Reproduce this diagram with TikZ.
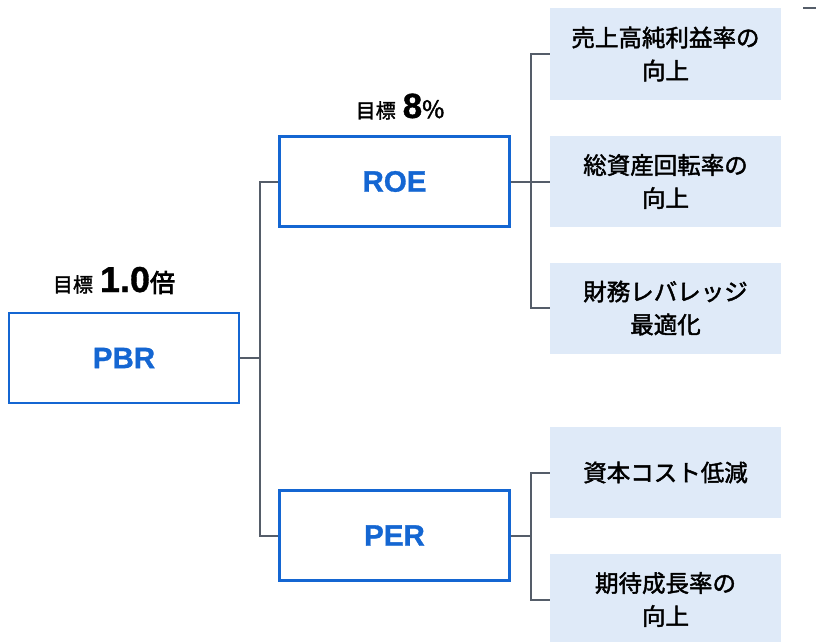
\documentclass[tikz,border=0pt]{standalone}
\usepackage{fontspec}
\setmainfont{Noto Sans CJK JP}
\newfontfamily\kpifont{Liberation Sans Bold}[FakeBold=1]
\newfontfamily\leverfont{Noto Sans CJK JP}[FakeBold=1.8]
\newfontfamily\goalfont{Noto Sans CJK JP}[FakeBold=3]
\usepackage{tikz}
\usetikzlibrary{positioning}

\definecolor{kpiblue}{HTML}{1466D2}
\definecolor{leverfill}{HTML}{DFEAF8}
\definecolor{treegray}{HTML}{555D69}

\tikzset{
  kpi/.style={draw=kpiblue, line width=2.8pt, minimum width=230pt, minimum height=90pt,
    inner sep=0pt, text=kpiblue, font=\kpifont\fontsize{29.5}{29.5}\selectfont},
  lever/.style={fill=leverfill, minimum width=231pt, minimum height=91pt, inner sep=0pt,
    align=center, font=\leverfont\fontsize{23.5}{33}\selectfont},
  link/.style={treegray, line width=2pt},
  goal/.style={inner sep=0pt, anchor=base}
}

\begin{document}
\begin{tikzpicture}[x=1pt, y=-1pt]
    \useasboundingbox (0,0) rectangle (816,642);

    % Indicators
    \node[kpi] (pbr) at (124,358) {PBR};
    \node[kpi] (roe) at (394.5,181.5) {ROE};
    \node[kpi] (per) at (394.5,535.5) {PER};

    % Targets
    \node[goal] (pbrgoal) at (114,292) {{\leverfont\fontsize{20}{20}\selectfont 目標}\hspace{7pt}{\kpifont\fontsize{36}{36}\selectfont 1.0}{\goalfont\fontsize{25}{25}\selectfont 倍}};
    \node[goal] (roegoal) at (400,118) {{\leverfont\fontsize{20}{20}\selectfont 目標}\hspace{7pt}{\kpifont\fontsize{35}{35}\selectfont 8}{\leverfont\fontsize{24}{24}\selectfont\%}};

    % Levers
    \node[lever] (sales)    at (665.5,54)  {売上高純利益率の\\向上};
    \node[lever] (turnover) at (665.5,181.5) {総資産回転率の\\向上};
    \node[lever] (leverage) at (665.5,308) {財務レバレッジ\\最適化};
    \node[lever] (capcost)  at (665.5,472.5) {資本コスト低減};
    \node[lever] (growth)   at (665.5,599.5) {期待成長率の\\向上};

    % Tree
    \draw[link] (pbr.east) -- ++(20,0) |- (roe.west);
    \draw[link] (pbr.east) -- ++(20,0) |- (per.west);
    \draw[link] (roe.east) -- ++(20,0) |- (sales.west);
    \draw[link] (roe.east) -- (turnover.west);
    \draw[link] (roe.east) -- ++(20,0) |- (leverage.west);
    \draw[link] (per.east) -- ++(20,0) |- (capcost.west);
    \draw[link] (per.east) -- ++(20,0) |- (growth.west);

    % Stub at the right edge
    \coordinate (stub) at (803,8);
    \draw[link] (stub) -- ++(13,0);
\end{tikzpicture}
\end{document}
